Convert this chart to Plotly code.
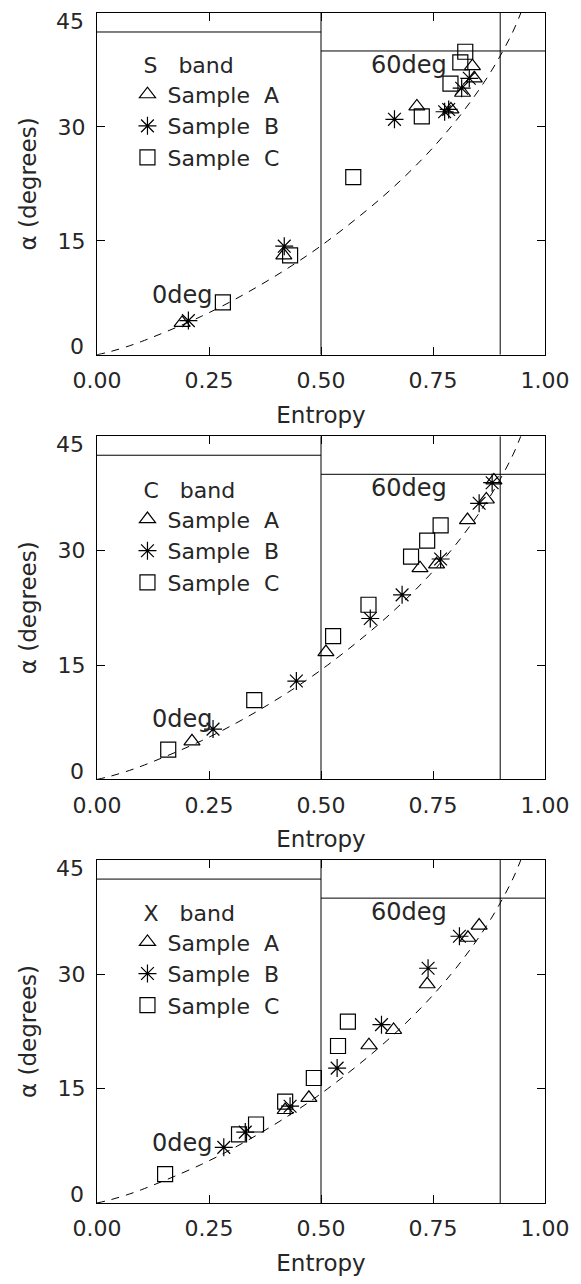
import plotly.graph_objects as go

# ---------------- data ----------------
bands = ["S band", "C band", "X band"]
samples = ["Sample A", "Sample B", "Sample C"]

# S band
s_A_H = [0.190, 0.417, 0.714, 0.790, 0.816, 0.838, 0.842]
s_A_alpha = [4.2, 13.1, 32.7, 32.3, 34.5, 38.0, 36.4]
s_B_H = [0.204, 0.418, 0.664, 0.776, 0.785, 0.814, 0.831]
s_B_alpha = [4.5, 14.3, 31.0, 32.0, 32.3, 35.1, 36.4]
s_C_H = [0.281, 0.431, 0.572, 0.725, 0.789, 0.811, 0.822]
s_C_alpha = [6.9, 13.1, 23.4, 31.4, 35.7, 38.5, 39.9]

# C band
c_A_H = [0.212, 0.511, 0.721, 0.758, 0.827, 0.869, 0.886]
c_A_alpha = [5.0, 16.7, 27.7, 28.2, 34.0, 36.7, 39.2]
c_B_H = [0.259, 0.445, 0.610, 0.681, 0.767, 0.853, 0.882]
c_B_alpha = [6.6, 12.9, 21.1, 24.2, 28.9, 36.2, 38.9]
c_C_H = [0.159, 0.351, 0.527, 0.606, 0.701, 0.737, 0.767]
c_C_alpha = [3.9, 10.4, 18.8, 22.9, 29.2, 31.3, 33.3]

# X band
x_A_H = [0.420, 0.473, 0.607, 0.662, 0.737, 0.828, 0.853]
x_A_alpha = [12.2, 13.8, 20.7, 22.7, 28.7, 34.8, 36.4]
x_B_H = [0.283, 0.331, 0.431, 0.536, 0.635, 0.739, 0.809]
x_B_alpha = [7.3, 9.3, 12.7, 17.7, 23.4, 30.8, 35.0]
x_C_H = [0.152, 0.317, 0.355, 0.420, 0.484, 0.538, 0.560]
x_C_alpha = [3.8, 9.0, 10.3, 13.3, 16.4, 20.6, 23.8]

# dashed boundary curve
curve_H = [0.0, 0.026, 0.057, 0.100, 0.234, 0.335, 0.435, 0.515, 0.637,
           0.725, 0.790, 0.839, 0.877, 0.906, 0.929, 0.946, 0.960]
curve_alpha = [0.0, 0.36, 0.89, 1.76, 5.09, 8.18, 11.74, 15.0, 20.77,
               25.71, 30.0, 33.75, 37.06, 40.0, 42.63, 45.0, 47.14]

# zone boundaries
zone_H = [0.5, 0.9]
zone_alpha_left = 42.5   # for H in [0, 0.5]
zone_alpha_right = 40.0  # for H in [0.5, 1]

x_ticks = [0.0, 0.25, 0.5, 0.75, 1.0]
y_ticks = [0, 15, 30, 45]
y_ticktext = ["0", "15", "30", "45"]
zero_label = "0deg"
sixty_label = "60deg"

panels = [
    [(s_A_H, s_A_alpha), (s_B_H, s_B_alpha), (s_C_H, s_C_alpha)],
    [(c_A_H, c_A_alpha), (c_B_H, c_B_alpha), (c_C_H, c_C_alpha)],
    [(x_A_H, x_A_alpha), (x_B_H, x_B_alpha), (x_C_H, x_C_alpha)],
]

# ---------------- figure ----------------
W, H = 581, 1284
ML, MR, MT, MB = 97, 29, 12, 76
plot_h = H - MT - MB
FONT = "DejaVu Sans"
TXT = "#262626"
NB = "\u00a0"


def py(px):
    return (H - MB - px) / plot_h


domains = [
    [py(355.5), 1.0],
    [py(782.3), py(437.3)],
    [0.0, py(863.3)],
]
legend_tops = [44, 471, 896]

symbols = ["triangle-up-open", "asterisk-open", "square-open"]
sizes = [14, 15, 15]

fig = go.Figure()

for i, pdata in enumerate(panels):
    sfx = "" if i == 0 else str(i + 1)
    xa, ya = "x" + sfx, "y" + sfx
    leg = "legend" + sfx
    # dashed curve
    fig.add_trace(go.Scatter(
        x=curve_H, y=curve_alpha, mode="lines", xaxis=xa, yaxis=ya,
        line=dict(color="black", width=1, dash="8px,7px", shape="spline"),
        showlegend=False, hoverinfo="skip"))
    # zone boundary lines
    for hz in zone_H:
        fig.add_trace(go.Scatter(
            x=[hz, hz], y=[0, 45], mode="lines", xaxis=xa, yaxis=ya,
            line=dict(color="black", width=1), showlegend=False, hoverinfo="skip"))
    fig.add_trace(go.Scatter(
        x=[0, zone_H[0]], y=[zone_alpha_left] * 2, mode="lines", xaxis=xa, yaxis=ya,
        line=dict(color="black", width=1), showlegend=False, hoverinfo="skip"))
    fig.add_trace(go.Scatter(
        x=[zone_H[0], 1.0], y=[zone_alpha_right] * 2, mode="lines", xaxis=xa, yaxis=ya,
        line=dict(color="black", width=1), showlegend=False, hoverinfo="skip"))
    # samples
    for j, (hx, av) in enumerate(pdata):
        fig.add_trace(go.Scatter(
            x=hx, y=av, mode="markers", name=samples[j].replace(" ", NB * 2),
            xaxis=xa, yaxis=ya, legend=leg,
            marker=dict(symbol=symbols[j], size=sizes[j], color="black",
                        line=dict(color="black", width=1.2)),
            cliponaxis=False))
    # text labels
    fig.add_annotation(x=0.191, y=7.9, xref=xa, yref=ya, text=zero_label,
                       showarrow=False, font=dict(family=FONT, size=24, color=TXT))
    fig.add_annotation(x=0.696, y=38.2, xref=xa, yref=ya, text=sixty_label,
                       showarrow=False, font=dict(family=FONT, size=24, color=TXT))
    # end tick labels of the y axis, kept inside the axis span as in the original
    fig.add_annotation(x=0, y=y_ticks[0], xref=xa, yref=ya, text=y_ticktext[0],
                       xanchor="right", yanchor="middle", xshift=-11, yshift=8,
                       showarrow=False, font=dict(family=FONT, size=22, color=TXT))
    fig.add_annotation(x=0, y=y_ticks[-1], xref=xa, yref=ya, text=y_ticktext[-1],
                       xanchor="right", yanchor="middle", xshift=-11, yshift=-8,
                       showarrow=False, font=dict(family=FONT, size=22, color=TXT))

    axis_common = dict(showline=True, linecolor="black", linewidth=1, mirror="ticks",
                       ticks="inside", ticklen=8, tickcolor="black", showgrid=False,
                       zeroline=False, tickfont=dict(family=FONT, size=22, color=TXT))
    fig.layout["xaxis" + sfx] = dict(
        axis_common, domain=[0, 1], range=[0, 1], anchor=ya,
        tickvals=x_ticks, tickformat=".2f", ticklabelstandoff=6,
        title=dict(text="Entropy", font=dict(family=FONT, size=23, color=TXT), standoff=14))
    fig.layout["yaxis" + sfx] = dict(
        axis_common, domain=domains[i], range=[0, 45], anchor=xa,
        tickvals=y_ticks, ticktext=[""] + y_ticktext[1:-1] + [""],
        ticklabelstandoff=6,
        title=dict(text="α (degrees)", font=dict(family=FONT, size=23, color=TXT), standoff=14))
    fig.layout[leg] = dict(
        title=dict(text=NB * 2 + bands[i].replace(" ", NB * 3),
                   font=dict(family=FONT, size=22, color=TXT)),
        x=0.068, y=py(legend_tops[i]), xanchor="left", yanchor="top",
        bgcolor="rgba(0,0,0,0)", font=dict(family=FONT, size=22, color=TXT),
        tracegroupgap=0)

fig.update_layout(
    width=W, height=H, autosize=False,
    margin=dict(l=ML, r=MR, t=MT, b=MB),
    paper_bgcolor="white", plot_bgcolor="white",
    font=dict(family=FONT, color=TXT),
)

fig.write_html("out.html")
